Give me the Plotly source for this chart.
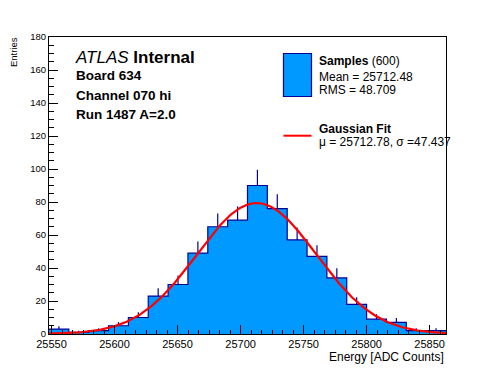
import numpy as np
import plotly.graph_objects as go

# ---------------- data ----------------
x_min, x_max = 25548.0, 25863.0
n_bins = 20
counts = [3, 1, 2, 5, 10, 23, 30, 49, 65, 69, 90, 76, 57, 47, 34, 18, 9, 7, 2, 2]
fit_mu = 25712.78
fit_sigma = 47.437
fit_const = 79.4
x_ticks = [25550, 25600, 25650, 25700, 25750, 25800, 25850]
y_ticks = [0, 20, 40, 60, 80, 100, 120, 140, 160, 180]

label_lines = ["<i>ATLAS</i> <b>Internal</b>", "<b>Board 634</b>",
               "<b>Channel 070 hi</b>", "<b>Run 1487 A=2.0</b>"]
legend_hist = ["<b>Samples</b> (600)", "Mean = 25712.48", "RMS = 48.709"]
legend_fit = ["<b>Gaussian Fit</b>", "μ = 25712.78, σ =47.437"]

# ---------------- derived ----------------
edges = np.linspace(x_min, x_max, n_bins + 1)
centers = 0.5 * (edges[:-1] + edges[1:])
counts_arr = np.array(counts, dtype=float)
errs = np.sqrt(counts_arr)

xf = np.linspace(x_min, x_max, 400)
yf = fit_const * np.exp(-0.5 * ((xf - fit_mu) / fit_sigma) ** 2)

FILL = "#0099ff"
EDGE = "#000099"
FONT = "Liberation Sans, Arial, Helvetica, sans-serif"

W, H = 496, 372
L, R, T, B = 49, 50, 37, 38
PW, PH = W - L - R, H - T - B


def px(x):
    return (x - L) / PW


def py(y):
    return (H - B - y) / PH


fig = go.Figure()

# histogram: filled step
fig.add_trace(go.Scatter(
    x=list(edges), y=list(counts_arr) + [counts_arr[-1]],
    mode="lines", line=dict(shape="hv", color=EDGE, width=1.2),
    fill="tozeroy", fillcolor=FILL, hoverinfo="skip", showlegend=False))

# error bars (upper half only visible)
fig.add_trace(go.Scatter(
    x=centers, y=counts_arr, mode="markers",
    marker=dict(size=1, color="rgba(0,0,0,0)"),
    error_y=dict(type="data", symmetric=False, array=errs,
                 arrayminus=[0] * n_bins, width=0, thickness=1.2, color=EDGE),
    hoverinfo="skip", showlegend=False))

# gaussian fit
fig.add_trace(go.Scatter(x=xf, y=yf, mode="lines",
                         line=dict(color="#ff0000", width=2.2),
                         hoverinfo="skip", showlegend=False))

fig.update_layout(
    width=W, height=H,
    margin=dict(l=L, r=R, t=T, b=B, pad=0),
    paper_bgcolor="white", plot_bgcolor="white",
    font=dict(family=FONT, color="black"),
    showlegend=False,
)

fig.update_xaxes(
    range=[x_min, x_max], tickvals=x_ticks, ticktext=[str(v) for v in x_ticks],
    ticks="inside", ticklen=9, tickwidth=1, tickcolor="black",
    showline=True, linecolor="black", linewidth=1, mirror=True,
    showgrid=False, zeroline=False,
    tickfont=dict(size=11, family=FONT, color="black"),
    minor=dict(tick0=25550, dtick=50 / 6, ticks="inside", ticklen=4.5,
               tickcolor="black", tickwidth=1, showgrid=False),
)
fig.update_yaxes(
    range=[0, 180], tickvals=y_ticks, ticktext=[str(v) for v in y_ticks],
    ticks="inside", ticklen=9, tickwidth=1, tickcolor="black",
    showline=True, linecolor="black", linewidth=1, mirror=True,
    showgrid=False, zeroline=False,
    tickfont=dict(size=9.5, family=FONT, color="black"),
    minor=dict(dtick=5, ticks="inside", ticklen=4.5,
               tickcolor="black", tickwidth=1, showgrid=False),
)

ann = []
# axis titles
ann.append(dict(text="Energy [ADC Counts]", x=px(446), y=py(356.5), xref="paper", yref="paper",
                xanchor="right", yanchor="middle", showarrow=False,
                font=dict(size=12, family=FONT)))
ann.append(dict(text="Entries", x=px(13), y=py(35), xref="paper", yref="paper",
                xanchor="center", yanchor="top", textangle=-90, showarrow=False,
                font=dict(size=9.5, family=FONT)))

# ATLAS labels
ann.append(dict(text=label_lines[0], x=px(73), y=py(57), xref="paper", yref="paper",
                xanchor="left", yanchor="middle", showarrow=False,
                font=dict(size=17, family=FONT)))
for i, t in enumerate(label_lines[1:]):
    ann.append(dict(text=t, x=px(73.5), y=py(76 + 19 * i), xref="paper", yref="paper",
                    xanchor="left", yanchor="middle", showarrow=False,
                    font=dict(size=13.5, family=FONT)))

# legend texts
for t, yy in zip(legend_hist, [61, 77, 90]):
    ann.append(dict(text=t, x=px(317), y=py(yy), xref="paper", yref="paper",
                    xanchor="left", yanchor="middle", showarrow=False,
                    font=dict(size=12, family=FONT)))
for t, yy in zip(legend_fit, [129, 142]):
    ann.append(dict(text=t, x=px(317), y=py(yy), xref="paper", yref="paper",
                    xanchor="left", yanchor="middle", showarrow=False,
                    font=dict(size=12, family=FONT)))

fig.update_layout(annotations=ann)

shapes = [
    dict(type="rect", xref="paper", yref="paper",
         x0=px(283.5), x1=px(311.5), y0=py(96.5), y1=py(53.5),
         fillcolor=FILL, line=dict(color=EDGE, width=1.2)),
    dict(type="line", xref="paper", yref="paper",
         x0=px(283.5), x1=px(311.5), y0=py(135.7), y1=py(135.7),
         line=dict(color="#ff0000", width=2)),
]
fig.update_layout(shapes=shapes)

fig.write_html("out.html", post_script="document.body.style.margin='0';",
               config={"displayModeBar": False, "staticPlot": True})
